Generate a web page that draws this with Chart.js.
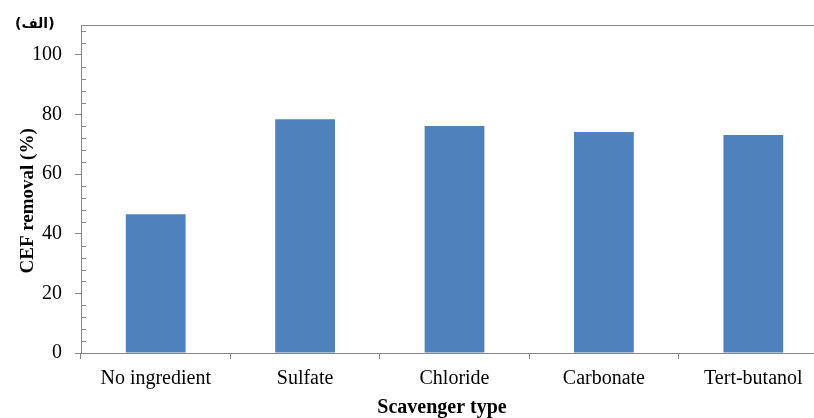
<!DOCTYPE html>
<html lang="en">
<head>
  <meta charset="UTF-8">
  <title>CEF removal by scavenger type</title>
  <script src="https://cdn.jsdelivr.net/npm/chart.js"></script>
  <style>
    body {
      margin: 0;
      padding: 0;
      background-color: #fff;
      overflow: hidden;
    }

    #wrap {
      position: relative;
      width: 840px;
      height: 418px;
    }

    #panel-label {
      position: absolute;
      left: 15px;
      top: 15px;
      font-family: "DejaVu Sans", "Liberation Serif", serif;
      font-weight: bold;
      font-size: 14px;
      color: #000;
    }
  </style>
</head>
<body>
  <div id="wrap">
    <canvas id="removalChart" width="840" height="418"></canvas>
    <div id="panel-label">(الف)</div>
  </div>

  <script>
    // Data
    const categories = ['No ingredient', 'Sulfate', 'Chloride', 'Carbonate', 'Tert-butanol'];
    const removal = [46.5, 78.4, 76.1, 74.1, 73.1];

    const axisColor = '#868686';
    const serif = "'Liberation Serif', 'Times New Roman', serif";
    const nb = '\u00A0';

    // small inside ticks on the y axis, every 4 units
    const minorTicks = {
      id: 'minorTicks',
      afterDraw(chart) {
        const y = chart.scales.y;
        const left = chart.chartArea.left;
        const c = chart.ctx;
        c.save();
        c.strokeStyle = axisColor;
        c.lineWidth = 1;
        for (let v = 4; v <= y.max; v += 4) {
          if (v % 20 === 0) continue;
          const py = Math.round(y.getPixelForValue(v)) + 0.5;
          c.beginPath();
          c.moveTo(left, py);
          c.lineTo(left + 5, py);
          c.stroke();
        }
        c.restore();
      }
    };

    const ctx = document.getElementById('removalChart').getContext('2d');
    const chart = new Chart(ctx, {
      type: 'bar',
      data: {
        labels: categories,
        datasets: [{
          data: removal,
          backgroundColor: '#4F81BD',
          borderWidth: 0,
          barPercentage: 0.4,
          categoryPercentage: 1.0
        }]
      },
      options: {
        responsive: false,
        animation: false,
        devicePixelRatio: 1,
        layout: {
          padding: { left: 0, right: 12, top: 21, bottom: 0 }
        },
        plugins: {
          legend: { display: false },
          tooltip: { enabled: false }
        },
        scales: {
          x: {
            grid: {
              display: true,
              offset: true,
              drawOnChartArea: false,
              tickLength: 6,
              color: axisColor
            },
            border: { display: true, color: axisColor, width: 1 },
            ticks: {
              color: '#000',
              padding: 8,
              maxRotation: 0,
              font: { family: serif, size: 20 }
            },
            title: {
              display: true,
              // trailing spaces nudge the centred title left, as in the original
              text: 'Scavenger type' + nb.repeat(5),
              color: '#000',
              padding: { top: 0, bottom: 0 },
              font: { family: serif, size: 20, weight: 'bold', lineHeight: 1 }
            },
            afterFit(scale) { scale.height = 65; }
          },
          xTop: {
            type: 'category',
            position: 'top',
            grid: { display: false },
            ticks: { display: false },
            border: { display: true, color: axisColor, width: 1 },
            afterFit(scale) { scale.height = 0; }
          },
          y: {
            min: 0,
            max: 110,
            grid: {
              display: true,
              drawOnChartArea: false,
              tickLength: 6,
              color: axisColor
            },
            border: { display: true, color: axisColor, width: 1 },
            ticks: {
              stepSize: 20,
              color: '#000',
              padding: 13,
              font: { family: serif, size: 20 }
            },
            afterBuildTicks(scale) {
              scale.ticks = scale.ticks.filter(t => t.value <= 100);
            },
            title: {
              display: true,
              // trailing spaces push the rotated title a little lower
              text: 'CEF removal (%)' + nb.repeat(5),
              color: '#000',
              padding: { top: 17, bottom: 0 },
              font: { family: serif, size: 19, weight: 'bold', lineHeight: 1.2 }
            },
            afterFit(scale) { scale.width = 81; }
          }
        }
      },
      plugins: [minorTicks]
    });
  </script>
</body>
</html>
